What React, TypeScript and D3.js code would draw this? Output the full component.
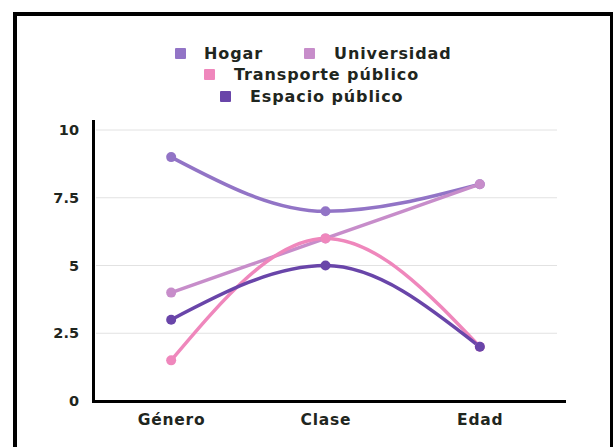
import React from "react";
import * as d3 from "d3";

const categories = ["Género", "Clase", "Edad"];
const seriesNames = ["Hogar", "Universidad", "Transporte público", "Espacio público"];
const hogar = [9, 7, 8];
const universidad = [4, 6, 8];
const transporte = [1.5, 6, 2];
const espacio = [3, 5, 2];
const yTicks = [0, 2.5, 5, 7.5, 10];
const yTickLabels = ["0", "2.5", "5", "7.5", "10"];

const colors = ["#9274c6", "#c78dca", "#ef87bc", "#6945a9"];
const allSeries = [hogar, universidad, transporte, espacio];

const W = 614;
const H = 447;
const FONT = "'DejaVu Sans', sans-serif";
const TEXT = "#1f2620";

export default function App() {
  const x = d3.scalePoint<string>().domain(categories).range([94, 557]).padding(0.5);
  const y = d3.scaleLinear().domain([0, 10]).range([401, 130]);
  const line = d3
    .line<number>()
    .x((_, i) => x(categories[i]) as number)
    .y((d) => y(d))
    .curve(d3.curveMonotoneX);

  const legendRows = [
    [
      { i: 0, sx: 175, tx: 204 },
      { i: 1, sx: 304, tx: 334 },
    ],
    [{ i: 2, sx: 204, tx: 234 }],
    [{ i: 3, sx: 220, tx: 250 }],
  ];
  const rowY = [48, 69, 91];

  return (
    <svg width={W} height={H} style={{ position: "absolute", left: 0, top: 0, background: "#fff" }}>
      <rect x={0} y={0} width={W} height={H} fill="#fff" />
      {/* frame */}
      <line x1={15} y1={12} x2={15} y2={H + 5} stroke="#000" strokeWidth={4} />
      <line x1={13} y1={14} x2={613} y2={14} stroke="#000" strokeWidth={4} />
      <line x1={611.5} y1={12} x2={611.5} y2={H + 5} stroke="#000" strokeWidth={3} />

      {/* legend */}
      {legendRows.map((row, r) =>
        row.map((it) => (
          <g key={it.i}>
            <rect x={it.sx} y={rowY[r]} width={11} height={11} rx={1} fill={colors[it.i]} />
            <text
              x={it.tx}
              y={rowY[r] + 5.5}
              dy="0.35em"
              fontFamily={FONT}
              fontWeight={700}
              fontSize={16}
              letterSpacing={0.9}
              fill={TEXT}
            >
              {seriesNames[it.i]}
            </text>
          </g>
        ))
      )}

      {/* gridlines */}
      {yTicks.map((t, i) =>
        t === 0 ? null : (
          <line key={i} x1={96} x2={557} y1={y(t)} y2={y(t)} stroke="#e2e2e2" strokeWidth={1} />
        )
      )}
      {/* y tick labels */}
      {yTicks.map((t, i) => (
        <text
          key={i}
          x={79}
          y={y(t)}
          dy="0.35em"
          textAnchor="end"
          fontFamily={FONT}
          fontWeight={700}
          fontSize={14.5}
          fill={TEXT}
        >
          {yTickLabels[i]}
        </text>
      ))}
      {/* axes */}
      <line x1={93.5} x2={93.5} y1={120} y2={403} stroke="#000" strokeWidth={3} />
      <line x1={92} x2={566} y1={401.5} y2={401.5} stroke="#000" strokeWidth={3} />
      {/* x labels */}
      {categories.map((c) => (
        <text
          key={c}
          x={(x(c) as number) + 0.4}
          y={420}
          dy="0.35em"
          textAnchor="middle"
          fontFamily={FONT}
          fontWeight={700}
          fontSize={15.5}
          letterSpacing={0.8}
          fill={TEXT}
        >
          {c}
        </text>
      ))}

      {/* lines */}
      {allSeries.map((s, k) => (
        <path key={k} d={line(s) || ""} fill="none" stroke={colors[k]} strokeWidth={3.5} strokeLinecap="round" />
      ))}
      {allSeries.map((s, k) =>
        s.map((v, i) => (
          <circle key={k + "-" + i} cx={x(categories[i])} cy={y(v)} r={5} fill={colors[k]} />
        ))
      )}
    </svg>
  );
}
